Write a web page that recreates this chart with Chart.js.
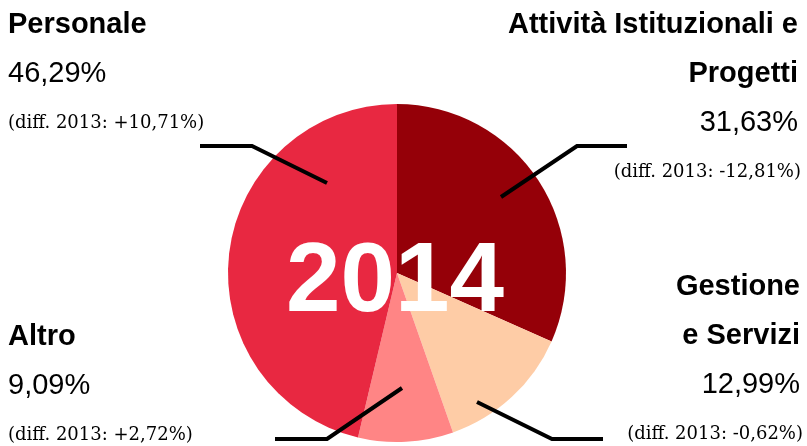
<!DOCTYPE html>
<html>
<head>
<meta charset="utf-8">
<script src="https://cdn.jsdelivr.net/npm/chart.js@4"></script>
<style>
  html, body { margin: 0; padding: 0; background: #fff; }
  #wrap { width: 807px; height: 446px; position: relative; }
</style>
</head>
<body>
<div id="wrap"><canvas id="chart" width="807" height="446"></canvas></div>
<script>
const year = '2014';
const categories = ['Attività Istituzionali e Progetti', 'Gestione e Servizi', 'Altro', 'Personale'];
const titleLines = [['Attività Istituzionali e', 'Progetti'], ['Gestione', 'e Servizi'], ['Altro'], ['Personale']];
const shares = [31.63, 12.99, 9.09, 46.29];
const diffs2013 = ['-12,81%', '-0,62%', '+2,72%', '+10,71%'];
const sliceColors = ['#950008', '#fecca6', '#ff8585', '#e82841'];

const fmt = v => v.toFixed(2).replace('.', ',') + '%';

// label blocks: anchor x, align, baseline of first line; leader as offsets from pie centre
const blocks = [
  { x: 798, align: 'right', y: 33, leader: [[104, -76], [180, -127], [230, -127]] },
  { x: 800, align: 'right', y: 295, leader: [[80, 129], [155, 166], [206, 166]] },
  { x: 8, align: 'left', y: 345, leader: [[5, 115], [-70, 166], [-122, 166]] },
  { x: 8, align: 'left', y: 33, leader: [[-70, -90], [-145, -127], [-197, -127]] }
];

const labelsPlugin = {
  id: 'labels',
  afterDatasetsDraw(chart) {
    const ctx = chart.ctx;
    const arc = chart.getDatasetMeta(0).data[0];
    const cx = arc.x, cy = arc.y;

    ctx.save();
    // centre year
    ctx.fillStyle = '#fff';
    ctx.font = "bold 98px 'Liberation Sans', Arial, sans-serif";
    ctx.textAlign = 'center';
    ctx.textBaseline = 'alphabetic';
    ctx.fillText(year, cx - 2, cy + 38);

    // leader lines
    ctx.strokeStyle = '#000';
    ctx.lineWidth = 4;
    ctx.lineJoin = 'miter';
    blocks.forEach(b => {
      ctx.beginPath();
      b.leader.forEach(([dx, dy], i) => {
        if (i === 0) ctx.moveTo(cx + dx, cy + dy);
        else ctx.lineTo(cx + dx, cy + dy);
      });
      ctx.stroke();
    });

    // text blocks
    ctx.fillStyle = '#000';
    blocks.forEach((b, i) => {
      ctx.textAlign = b.align;
      let y = b.y;
      ctx.font = "bold 29px 'Liberation Sans', Arial, sans-serif";
      titleLines[i].forEach(line => {
        ctx.fillText(line, b.x, y);
        y += 49;
      });
      ctx.font = "29px 'Liberation Sans', Arial, sans-serif";
      ctx.fillText(fmt(shares[i]), b.x, y);
      y += 46;
      ctx.font = "18px 'DejaVu Serif', serif";
      ctx.fillText('(diff. 2013: ' + diffs2013[i] + ')', b.x + (b.align === 'right' ? 3 : 0), y);
    });
    ctx.restore();
  }
};

new Chart(document.getElementById('chart'), {
  type: 'pie',
  data: {
    labels: categories,
    datasets: [{
      data: shares,
      backgroundColor: sliceColors,
      borderWidth: 0
    }]
  },
  options: {
    responsive: false,
    animation: false,
    layout: { padding: { left: 228, right: 241, top: 104, bottom: 4 } },
    plugins: {
      legend: { display: false },
      tooltip: { enabled: false }
    }
  },
  plugins: [labelsPlugin]
});
</script>
</body>
</html>
